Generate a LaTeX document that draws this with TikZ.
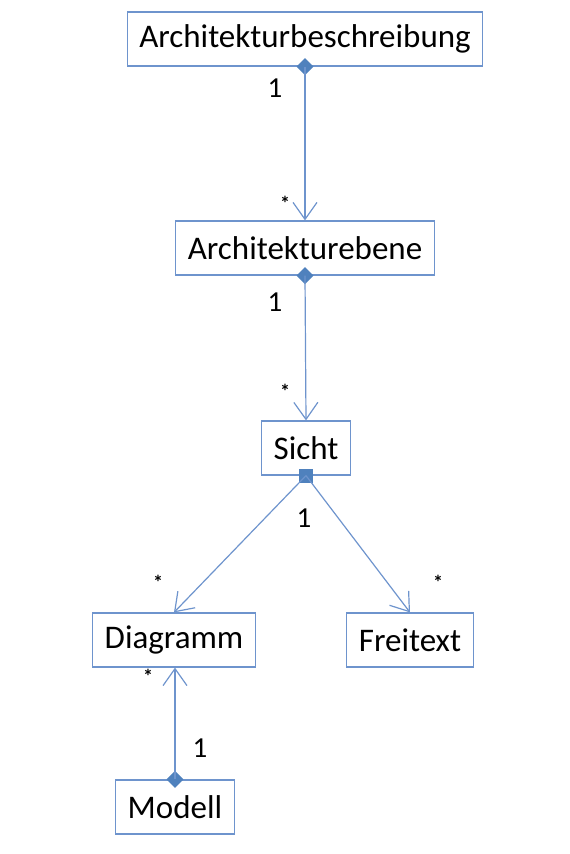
\documentclass[tikz,border=0pt]{standalone}
\usepackage{fontspec}
\setmainfont{Carlito}
\usetikzlibrary{arrows.meta,positioning,shapes.geometric}
\definecolor{umlblue}{RGB}{79,129,189}
\definecolor{linkblue}{RGB}{110,148,205}

\begin{document}
\begin{tikzpicture}[x=1pt,y=-1pt,
    cls/.style={draw=linkblue,fill=white,line width=1.2pt,minimum height=54pt,inner xsep=12pt,font=\fontsize{33}{36}\selectfont},
    link/.style={draw=linkblue,line width=1.2pt,-{Straight Barb[length=17pt,width=24pt,line width=1.2pt]}},
    comp/.style={diamond,fill=umlblue,inner sep=0pt,minimum size=17pt},
    aggr/.style={rectangle,fill=umlblue,inner sep=0pt,minimum size=14pt},
    mult/.style={font=\fontsize{29}{31}\selectfont},
    star/.style={font=\bfseries\fontsize{20}{22}\selectfont}]
  \useasboundingbox (0,0) rectangle (570,854);

  % Klassen
  \node[cls] (beschr) at (305,39) {Architekturbeschreibung};
  \node[cls] (ebene) at (305,248) {Architekturebene};
  \node[cls] (sicht) at (306,448) {Sicht};
  \node[cls] (diag) at (174,640) {Diagramm};
  \node[cls] (frei) at (410,640) {Freitext};
  \node[cls] (modell) at (175,807) {Modell};

  % Kompositionen
  \node[comp] (d1) at (beschr.south) {};
  \node[comp] (d2) at (ebene.south) {};
  \node[aggr] (q1) at (sicht.south) {};
  \node[comp] (d3) at (modell.north) {};

  \draw[link] (d1.center) -- (ebene.north);
  \draw[link] (d2.center) -- (sicht.north);
  \draw[link] (q1.center) -- (diag.north);
  \draw[link] (q1.center) -- (frei.north);
  \draw[link] (d3.center) -- (diag.south -| d3);

  % Multiplizitaeten
  \node[mult] (m1) at (275,88) {1};
  \node[star] (s1) at (285,203) {*};
  \node[mult] (m2) at (275,302) {1};
  \node[star] (s2) at (285,391) {*};
  \node[mult] (m3) at (304,518) {1};
  \node[star] (s3) at (158,582) {*};
  \node[star] (s4) at (438,582) {*};
  \node[star] (s5) at (148,676) {*};
  \node[mult] (m4) at (200,748) {1};
\end{tikzpicture}
\end{document}
